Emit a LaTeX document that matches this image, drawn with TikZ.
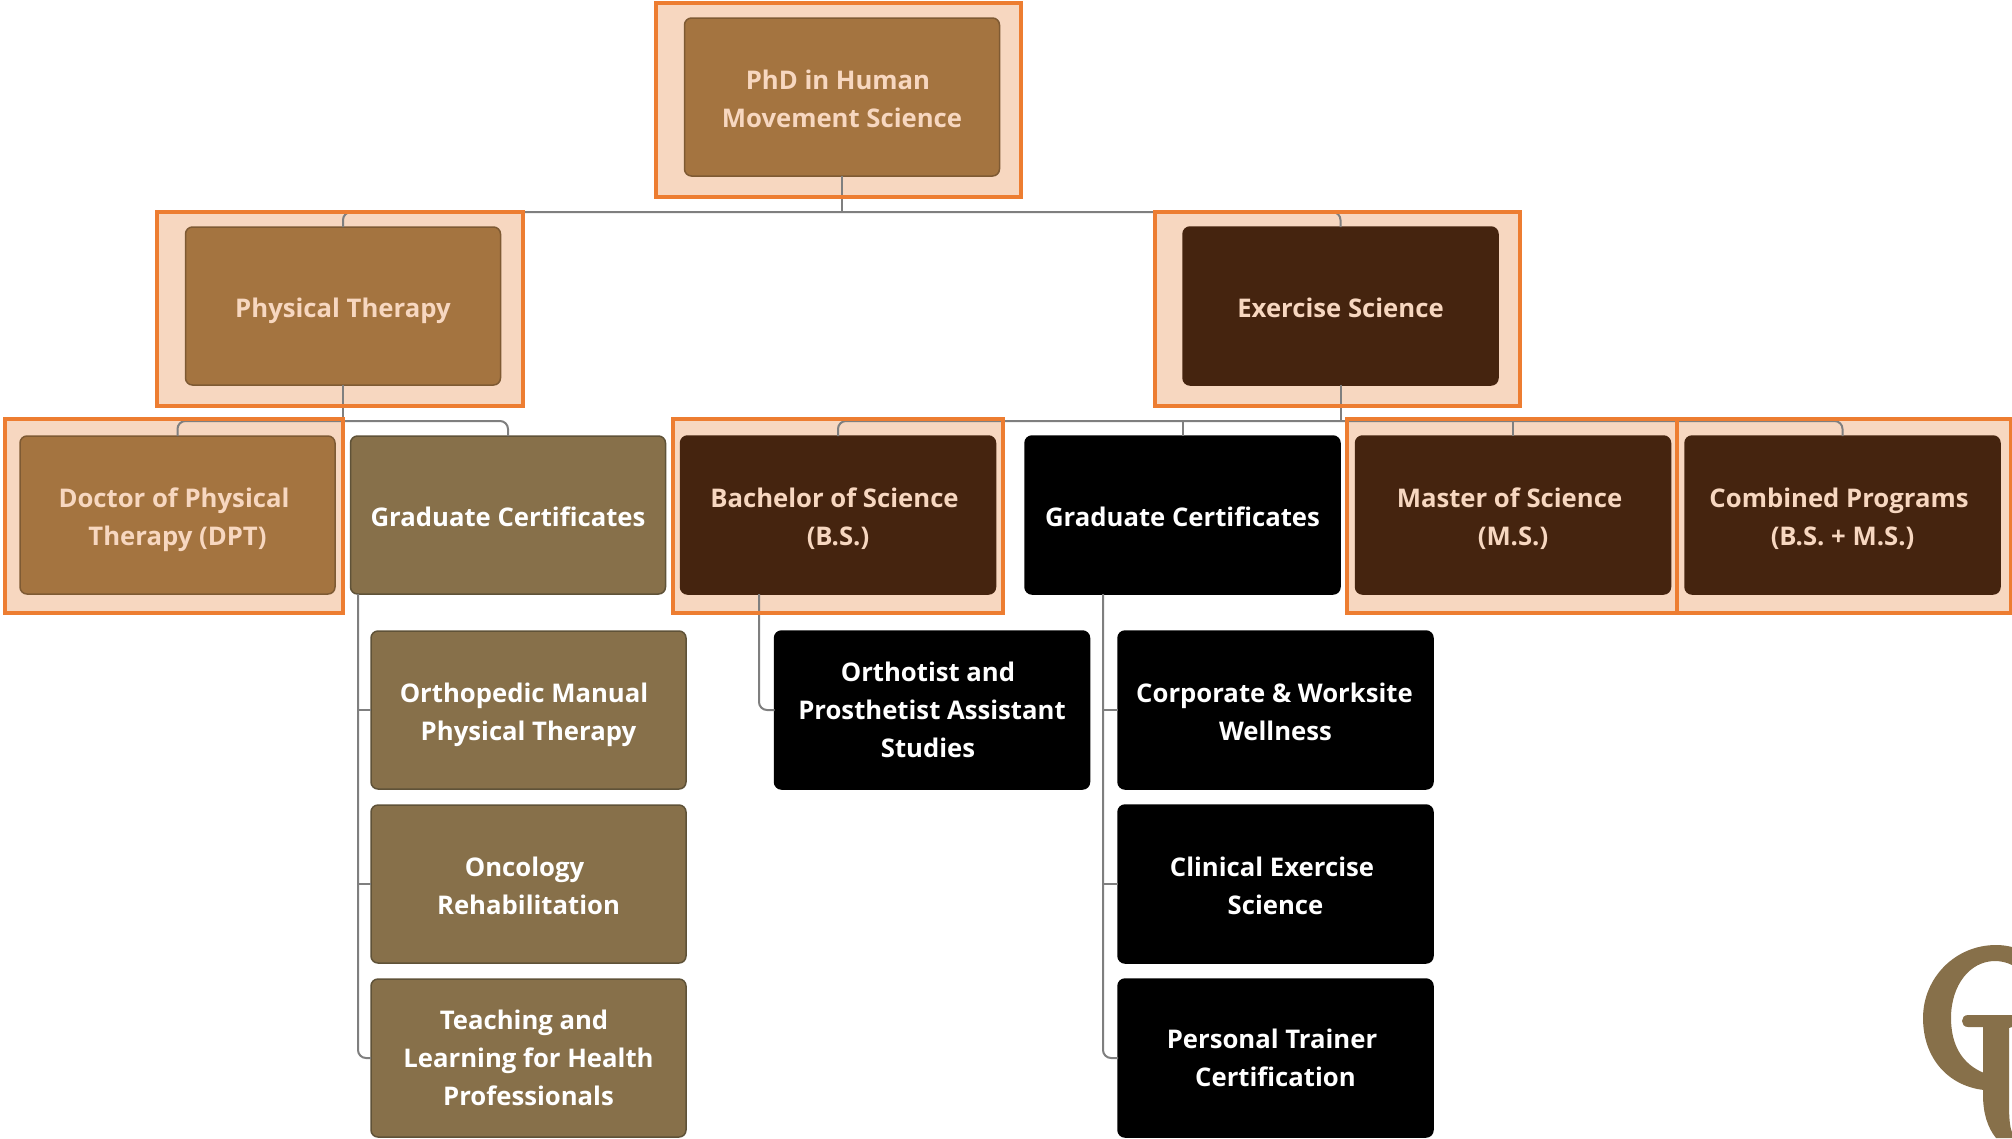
\documentclass[tikz,border=0pt]{standalone}
\usepackage{fontspec}
\setmainfont{Open Sans}
\definecolor{tanfill}{HTML}{A47440}
\definecolor{tanedge}{HTML}{7E5A33}
\definecolor{darkfill}{HTML}{45240F}
\definecolor{oliv}{HTML}{87704A}
\definecolor{olivedge}{HTML}{5F5238}
\definecolor{peach}{HTML}{F7D7C0}
\definecolor{orangeb}{HTML}{ED7D31}
\definecolor{conn}{HTML}{7F7F7F}
\newcommand{\tstrut}{\rule[-7.4pt]{0pt}{37.4pt}}
\newcommand{\ustrut}{\rule[-9.4pt]{0pt}{37.4pt}}
\newcommand{\shft}[1]{\hspace*{#1pt}}
\tikzset{
  base/.style={rectangle,rounded corners=7pt,minimum width=315pt,minimum height=158pt,inner sep=0pt,outer sep=0pt,align=center,
    font=\fontsize{25.7}{38}\selectfont\bfseries,line width=1.5pt},
  tanbox/.style={base,fill=tanfill,draw=tanedge,text=peach},
  darkbox/.style={base,fill=darkfill,draw=darkfill,text=peach},
  olivebox/.style={base,fill=oliv,draw=olivedge,text=white},
  blackbox/.style={base,fill=black,draw=black,text=white},
  hlfill/.style={fill=peach,draw=none},
  hledge/.style={draw=orangeb,line width=4pt,fill=none},
  link/.style={draw=conn,line width=2pt,rounded corners=8pt},
  stem/.style={draw=conn,line width=2pt},
}
\begin{document}
\begin{tikzpicture}[x=1pt,y=-1pt]
\useasboundingbox (0,0) rectangle (2012,1138);
% highlight fills
\fill[hlfill] (656,3) rectangle (1020.5,196.5);
\fill[hlfill] (157,212.3) rectangle (522.5,405.7);
\fill[hlfill] (1154.5,212.3) rectangle (1519.5,405.7);
\fill[hlfill] (5,419.3) rectangle (342.6,613);
\fill[hlfill] (673,419.3) rectangle (1002.5,613);
\fill[hlfill] (1347,419.3) rectangle (1676.5,613);
\fill[hlfill] (1676.5,419.3) rectangle (2011,613);
% nodes
\node[tanbox] (phd) at (842,97) {\tstrut PhD in Human\shft{8}\\\tstrut Movement Science};
\node[tanbox] (pt) at (343,306) {\tstrut Physical Therapy};
\node[darkbox] (es) at (1340.5,306) {\tstrut Exercise Science};
\node[tanbox] (dpt) at (177.5,515) {\tstrut Doctor of Physical\shft{7}\\\tstrut Therapy (DPT)};
\node[olivebox] (gc1) at (508,515) {\tstrut Graduate Certificates};
\node[darkbox] (bs) at (838,515) {\tstrut Bachelor of Science\shft{7}\\\tstrut (B.S.)};
\node[blackbox] (gc2) at (1182.5,515) {\tstrut Graduate Certificates};
\node[darkbox] (ms) at (1513,515) {\tstrut Master of Science\shft{7}\\\tstrut (M.S.)};
\node[darkbox] (cp) at (1842.5,515) {\tstrut Combined Programs\shft{7}\\\tstrut (B.S. + M.S.)};
\node[olivebox] (omt) at (528.5,710) {\tstrut Orthopedic Manual\shft{9}\\\tstrut Physical Therapy};
\node[olivebox] (onc) at (528.5,884) {\tstrut Oncology\shft{8}\\\tstrut Rehabilitation};
\node[olivebox] (tl) at (528.5,1058) {\ustrut Teaching and\shft{9}\\\ustrut Learning for Health\shft{9}\\\ustrut Professionals};
\node[blackbox] (oap) at (932,710) {\ustrut Orthotist and\shft{8}\\\ustrut Prosthetist Assistant\shft{8}\\\ustrut Studies\shft{8}};
\node[blackbox] (corp) at (1275.5,710) {\tstrut Corporate \& Worksite\shft{2}\\\tstrut Wellness};
\node[blackbox] (cli) at (1275.5,884) {\tstrut Clinical Exercise\shft{7}\\\tstrut Science};
\node[blackbox] (ptc) at (1275.5,1058) {\ustrut Personal Trainer\shft{7}\\\ustrut Certification};
% connector rails
\coordinate (railA) at (0,212);
\coordinate (railB) at (0,421);
\coordinate (railG) at (358,0);
\coordinate (railS) at (759,0);
\coordinate (railH) at (1103,0);
% connectors
\draw[stem] (phd.south) -- (phd.south |- railA);
\draw[link] (pt.north) -- (pt.north |- railA) -- (es.north |- railA) -- (es.north);
\draw[stem] (pt.south) -- (pt.south |- railB);
\draw[link] (dpt.north) -- (dpt.north |- railB) -- (gc1.north |- railB) -- (gc1.north);
\draw[stem] (es.south) -- (es.south |- railB);
\draw[link] (bs.north) -- (bs.north |- railB) -- (cp.north |- railB) -- (cp.north);
\draw[stem] (gc2.north) -- (gc2.north |- railB);
\draw[stem] (ms.north) -- (ms.north |- railB);
\draw[link] (gc1.south -| railG) -- (tl.west -| railG) -- (tl.west);
\draw[stem] (omt.west -| railG) -- (omt.west);
\draw[stem] (onc.west -| railG) -- (onc.west);
\draw[link] (bs.south -| railS) -- (oap.west -| railS) -- (oap.west);
\draw[link] (gc2.south -| railH) -- (ptc.west -| railH) -- (ptc.west);
\draw[stem] (corp.west -| railH) -- (corp.west);
\draw[stem] (cli.west -| railH) -- (cli.west);
% highlight borders
\draw[hledge] (656,3) rectangle (1020.5,196.5);
\draw[hledge] (157,212.3) rectangle (522.5,405.7);
\draw[hledge] (1154.5,212.3) rectangle (1519.5,405.7);
\draw[hledge] (5,419.3) rectangle (342.6,613);
\draw[hledge] (673,419.3) rectangle (1002.5,613);
\draw[hledge] (1347,419.3) rectangle (1676.5,613);
\draw[hledge] (1676.5,419.3) rectangle (2011,613);
% logo: ring of the G
\fill[oliv] (2012,947) .. controls (2006,945.5) and (2001,945) .. (1996,945)
  .. controls (1955,945) and (1923,978) .. (1923,1018)
  .. controls (1923,1058) and (1948,1086) .. (1984,1090)
  -- (1984,1073) .. controls (1962,1064) and (1951,1045) .. (1951,1018)
  .. controls (1951,985) and (1970,961) .. (1995,961)
  .. controls (2001,961) and (2007,962.5) .. (2012,965) -- cycle;
% logo: bar and stem
\fill[oliv] (1968,1015) -- (2012,1015) -- (2012,1027) -- (2009,1028) -- (2009,1105)
  .. controls (2009,1118) and (2010,1128) .. (2012,1132) -- (2012,1138) -- (1996,1138)
  .. controls (1987,1127) and (1983,1112) .. (1983,1095) -- (1983,1027) -- (1968,1027)
  .. controls (1960,1027) and (1960,1015) .. (1968,1015) -- cycle;
\end{tikzpicture}
\end{document}
